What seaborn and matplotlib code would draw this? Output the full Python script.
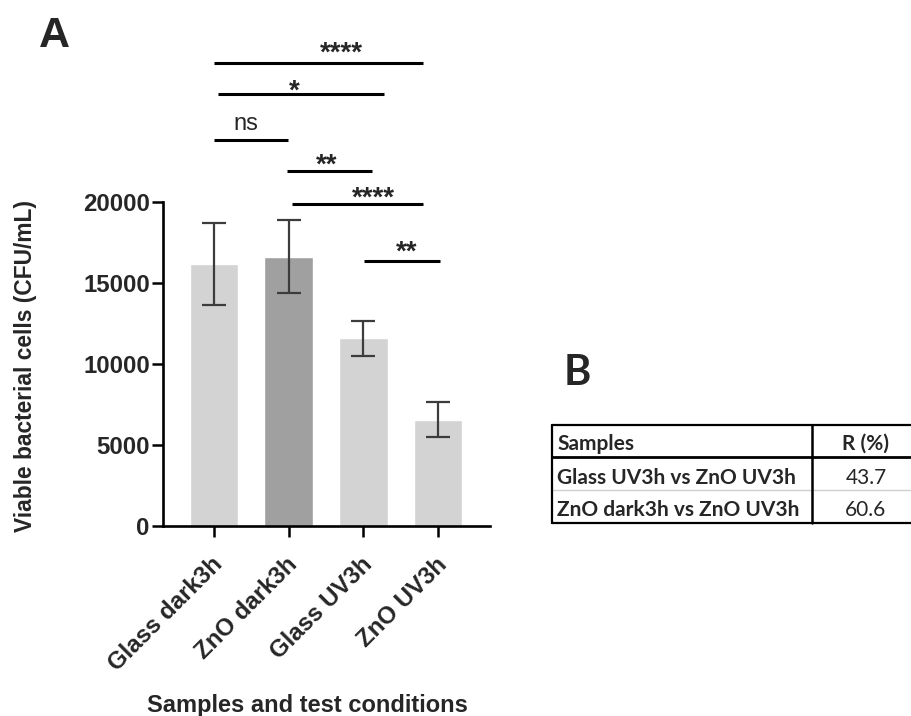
import matplotlib
matplotlib.use("Agg")
import matplotlib.pyplot as plt
import matplotlib.transforms as mtransforms
import seaborn as sns
import pandas as pd

# ---------------- data ----------------
categories = ["Glass dark3h", "ZnO dark3h", "Glass UV3h", "ZnO UV3h"]
means = [16180, 16630, 11600, 6550]
errors = [2550, 2240, 1080, 1080]
bar_colors = ["#d3d3d3", "#a0a0a0", "#d3d3d3", "#d3d3d3"]
yticks = [0, 5000, 10000, 15000, 20000]

sig_labels = ["****", "*", "ns", "**", "****", "**"]
sig_x0 = [0.0, 0.05, 0.0, 0.98, 1.04, 2.01]
sig_x1 = [2.80, 2.28, 0.99, 2.12, 2.80, 3.03]
sig_y = [28580, 26670, 23830, 21910, 19880, 16380]
sig_text_x = [1.70, 1.08, 0.43, 1.51, 2.13, 2.58]
sig_text_y = [29200, 26850, 24440, 22280, 20250, 16910]

table_header = ["Samples", "R (%)"]
table_samples = ["Glass UV3h vs ZnO UV3h", "ZnO dark3h vs ZnO UV3h"]
table_r = ["43.7", "60.6"]

# ---------------- figure ----------------
sns.set_style("white")
plt.rcParams["font.family"] = ["Liberation Sans", "DejaVu Sans"]

W, H = 911, 716
fig = plt.figure(figsize=(W / 100, H / 100), dpi=100)
ax = fig.add_axes([163 / W, 1 - 526 / H, 327 / W, 324 / H])

df = pd.DataFrame({"cond": categories, "cfu": means})
sns.barplot(data=df, x="cond", y="cfu", hue="cond", palette=bar_colors,
            legend=False, width=0.65, errorbar=None, saturation=1, ax=ax)
ax.errorbar(range(len(categories)), means, yerr=errors, fmt="none",
            ecolor="#3c3c3c", elinewidth=1.6, capsize=8.6, capthick=1.6, zorder=3)

ax.set_xlim(-0.683, 3.695)
ax.set_ylim(0, 20000)
ax.set_yticks(yticks)
ax.set_yticklabels([str(t) for t in yticks])
sns.despine(ax=ax)
for s in ["left", "bottom"]:
    ax.spines[s].set_linewidth(1.9)
    ax.spines[s].set_color("black")
ax.tick_params(axis="both", length=8, width=1.8, color="black", pad=1.5,
               labelsize=17.3, left=True, bottom=True)
for lab in ax.get_yticklabels():
    lab.set_fontweight("bold")
ax.set_xlabel("")
ax.set_ylabel("")
ax.set_xticks(range(len(categories)))
ax.set_xticklabels(categories, rotation=45, ha="right", va="center",
                   rotation_mode="anchor", fontweight="bold", fontsize=17.3)
offset = mtransforms.ScaledTranslation(0.05, -0.22, fig.dpi_scale_trans)
for lab in ax.get_xticklabels():
    lab.set_transform(lab.get_transform() + offset)

# significance bars
for lab, x0, x1, y, tx, ty in zip(sig_labels, sig_x0, sig_x1, sig_y,
                                  sig_text_x, sig_text_y):
    ax.plot([x0, x1], [y, y], color="black", lw=2.2, clip_on=False,
            solid_capstyle="butt")
    if lab == "ns":
        ax.annotate(lab, xy=(tx, ty), ha="center", va="baseline", fontsize=17,
                    annotation_clip=False)
    else:
        ax.annotate(lab, xy=(tx, ty), xytext=(0, -5.2), textcoords="offset points",
                    ha="center", va="baseline", fontsize=20, fontweight="bold",
                    annotation_clip=False)

# overlay in pixel coordinates for labels, panel letters, table
ov = fig.add_axes([0, 0, 1, 1])
ov.set_xlim(0, W)
ov.set_ylim(H, 0)
ov.axis("off")

ov.text(26, 366, "Viable bacterial cells (CFU/mL)", rotation=90, ha="center",
        va="center", fontsize=16.4, fontweight="bold")
ov.text(307, 712, "Samples and test conditions", ha="center", va="baseline",
        fontsize=17, fontweight="bold")
ov.text(39, 47, "A", ha="left", va="baseline", fontsize=31, fontweight="bold")
ov.text(564, 385, "B", ha="left", va="baseline", fontsize=30, fontweight="bold",
        family=["Lato", "DejaVu Sans"])

# table
tx0, tx1, tcol = 552, 911, 812
ry = [425, 457, 490, 523]
ov.plot([tx0, tx1], [ry[0], ry[0]], color="black", lw=1.6)
ov.plot([tx0, tx1], [ry[1], ry[1]], color="black", lw=2.0)
ov.plot([tx0, tx1], [ry[2], ry[2]], color="#d0d0d0", lw=1.0)
ov.plot([tx0, tx1], [ry[3], ry[3]], color="black", lw=1.6)
ov.plot([tx0, tx0], [ry[0], ry[3]], color="black", lw=1.6)
ov.plot([tcol, tcol], [ry[0], ry[3]], color="black", lw=1.8)

tfont = ["Lato", "DejaVu Sans"]
ov.text(557, 450, table_header[0], ha="left", va="baseline", fontsize=15,
        fontweight="bold", family=tfont)
ov.text(865, 450, table_header[1], ha="center", va="baseline", fontsize=15,
        fontweight="bold", family=tfont)
for i, (s, r) in enumerate(zip(table_samples, table_r)):
    base = [484, 516][i]
    ov.text(557, base, s, ha="left", va="baseline", fontsize=15,
            fontweight="bold", family=tfont)
    ov.text(866, base, r, ha="center", va="baseline", fontsize=15,
            family=tfont)

fig.savefig("out.png", dpi=100)
